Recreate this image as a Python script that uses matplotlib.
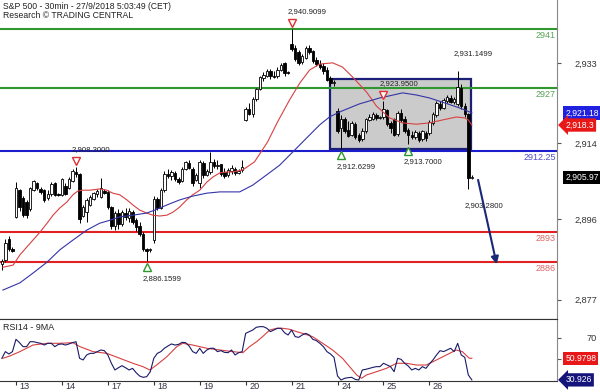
import numpy as np
import matplotlib
matplotlib.use("Agg")
import matplotlib.pyplot as plt
import matplotlib.transforms as mtrans
from matplotlib.patches import Rectangle

plt.rcParams['font.family'] = ['Liberation Sans', 'DejaVu Sans']

# ---------------- data ----------------
title_lines = ["S&P 500 - 30min - 27/9/2018 5:03:49 (CET)", "Research \u00a9 TRADING CENTRAL"]
day_labels = ["13", "14", "17", "18", "19", "20", "21", "24", "25", "26"]
bars_per_day = 13
first_bar = -4  # bars of the previous session shown before "13"

opens = [2885.5, 2886.4, 2891.3, 2889.0,
         2896.6, 2903.0, 2901.0, 2900.0, 2898.5, 2903.0, 2904.5, 2903.3, 2903.0, 2901.0, 2902.0, 2904.5, 2902.0,
         2901.8, 2904.0, 2903.5, 2905.0, 2907.3, 2906.8, 2896.8, 2897.8, 2899.5, 2900.8, 2902.0, 2901.4, 2902.8,
         2902.5, 2899.0, 2894.5, 2897.5, 2895.0, 2897.6, 2896.3, 2897.8, 2895.8, 2894.5, 2892.5, 2889.0, 2888.8,
         2891.2, 2900.8, 2898.8, 2903.0, 2906.8, 2906.3, 2907.0, 2905.6, 2905.0, 2908.0, 2909.3, 2908.0, 2905.2,
         2904.5, 2909.3, 2906.5, 2907.2, 2909.6, 2908.6, 2909.0, 2907.2, 2906.4, 2907.5, 2908.0, 2907.0, 2907.6,
         2919.6, 2922.0, 2921.0, 2924.5, 2926.8, 2929.3, 2930.0, 2931.0, 2930.0, 2929.8, 2931.3, 2933.0, 2930.8,
         2937.5, 2936.5, 2935.5, 2933.2, 2934.2, 2936.5, 2935.7, 2933.7, 2932.8, 2932.2, 2931.3, 2929.3, 2928.2,
         2921.5, 2917.5, 2919.8, 2917.2, 2916.0, 2918.5, 2916.0, 2915.0, 2916.8, 2919.5, 2919.8, 2920.6, 2920.0,
         2920.3, 2921.8, 2918.8, 2919.8, 2916.2, 2921.2, 2919.7, 2917.2, 2916.0, 2915.5, 2916.5, 2915.0, 2916.5,
         2916.4, 2918.8, 2920.6, 2923.3, 2922.3, 2924.0, 2924.8, 2923.8, 2923.2, 2927.0, 2922.8, 2920.8, 2905.8]
highs = [2886.6, 2891.4, 2892.0, 2889.5,
         2904.8, 2903.2, 2901.5, 2900.6, 2903.6, 2905.4, 2904.8, 2903.6, 2903.2, 2903.0, 2904.8, 2904.8, 2902.3,
         2905.8, 2904.5, 2906.0, 2908.0, 2908.3, 2907.0, 2899.4, 2901.0, 2901.8, 2902.5, 2903.3, 2905.8, 2903.2,
         2903.0, 2899.2, 2898.0, 2898.5, 2898.3, 2898.8, 2898.6, 2898.2, 2896.3, 2895.3, 2893.0, 2889.3, 2889.3,
         2901.5, 2901.3, 2903.4, 2907.5, 2907.8, 2907.7, 2907.5, 2906.0, 2908.3, 2909.8, 2910.0, 2908.4, 2907.0,
         2910.0, 2909.8, 2908.0, 2912.0, 2910.2, 2910.0, 2909.2, 2908.2, 2908.2, 2908.8, 2908.4, 2907.8, 2910.0,
         2922.5, 2923.5, 2925.0, 2927.0, 2929.8, 2930.8, 2931.5, 2931.6, 2931.0, 2932.0, 2933.0, 2933.3, 2931.0,
         2940.9099, 2937.2, 2936.0, 2935.0, 2937.0, 2937.3, 2936.0, 2934.3, 2933.6, 2933.0, 2932.0, 2930.0, 2929.0,
         2922.3, 2920.6, 2920.2, 2919.2, 2919.3, 2919.0, 2916.5, 2917.5, 2920.0, 2921.0, 2921.3, 2921.2, 2920.5,
         2923.95, 2922.0, 2919.2, 2920.0, 2921.6, 2922.0, 2920.5, 2917.6, 2917.0, 2917.2, 2917.0, 2917.2, 2917.0,
         2919.5, 2921.3, 2924.0, 2924.0, 2924.6, 2925.5, 2925.3, 2925.0, 2931.1499, 2928.0, 2923.5, 2921.2, 2906.4]
lows = [2884.0, 2886.0, 2888.5, 2888.2,
        2896.4, 2898.0, 2896.5, 2896.4, 2898.0, 2902.8, 2903.0, 2902.0, 2900.0, 2900.5, 2901.6, 2901.6, 2901.5,
        2901.5, 2901.7, 2903.3, 2904.8, 2906.0, 2895.1, 2896.5, 2895.4, 2899.2, 2900.5, 2901.2, 2901.1, 2902.0,
        2898.5, 2893.8, 2893.5, 2893.8, 2894.5, 2895.8, 2895.5, 2895.0, 2893.3, 2892.0, 2888.6, 2886.1599, 2888.4,
        2890.5, 2898.2, 2898.4, 2902.5, 2905.8, 2905.3, 2905.0, 2904.3, 2904.8, 2907.6, 2907.8, 2904.0, 2905.0,
        2903.5, 2905.8, 2906.2, 2906.8, 2908.2, 2908.0, 2906.2, 2905.8, 2906.0, 2906.8, 2906.4, 2906.8, 2907.3,
        2919.3, 2920.6, 2920.3, 2924.0, 2926.5, 2928.8, 2929.6, 2929.2, 2929.3, 2929.5, 2931.0, 2930.0, 2930.4,
        2935.8, 2933.5, 2932.5, 2932.8, 2933.8, 2935.0, 2933.0, 2932.2, 2931.6, 2930.4, 2928.6, 2927.8, 2927.6,
        2916.5, 2912.6299, 2916.5, 2915.5, 2915.8, 2915.0, 2914.2, 2914.5, 2916.5, 2919.2, 2919.5, 2919.6, 2919.8,
        2919.8, 2918.0, 2916.5, 2915.6, 2915.8, 2919.0, 2916.5, 2913.7, 2915.0, 2915.0, 2914.4, 2914.6, 2914.5,
        2916.0, 2918.3, 2920.3, 2921.8, 2922.0, 2923.6, 2923.4, 2923.2, 2922.8, 2922.0, 2920.2, 2903.28, 2905.6]
closes = [2886.2, 2890.4, 2889.0, 2888.6,
          2903.5, 2899.0, 2897.0, 2897.0, 2903.4, 2905.0, 2903.5, 2902.5, 2900.5, 2902.0, 2904.4, 2901.8, 2901.8,
          2905.5, 2902.0, 2905.6, 2907.5, 2906.8, 2896.2, 2899.0, 2900.5, 2901.2, 2902.2, 2902.8, 2903.4, 2902.3,
          2899.0, 2894.5, 2897.5, 2895.0, 2897.8, 2896.5, 2898.0, 2895.5, 2894.2, 2892.5, 2889.0, 2888.6, 2888.9,
          2900.9, 2898.6, 2903.0, 2906.8, 2906.2, 2907.2, 2905.5, 2904.8, 2908.0, 2909.5, 2908.2, 2904.5, 2906.6,
          2909.5, 2906.5, 2907.5, 2909.6, 2908.6, 2908.8, 2906.8, 2906.2, 2907.6, 2908.2, 2907.0, 2907.5, 2908.5,
          2922.2, 2921.0, 2924.5, 2926.8, 2929.6, 2930.2, 2931.0, 2930.0, 2929.6, 2931.3, 2932.6, 2930.5, 2930.6,
          2936.3, 2934.0, 2933.0, 2934.5, 2936.5, 2935.5, 2933.5, 2932.7, 2932.0, 2931.0, 2929.0, 2928.3, 2928.4,
          2917.0, 2919.8, 2917.0, 2915.8, 2918.8, 2915.5, 2914.8, 2917.0, 2919.7, 2920.3, 2920.8, 2920.0, 2920.2,
          2922.0, 2918.6, 2917.5, 2916.0, 2921.2, 2919.5, 2917.0, 2916.0, 2915.4, 2916.6, 2914.8, 2916.8, 2915.2,
          2919.0, 2920.8, 2923.5, 2922.3, 2924.2, 2925.0, 2923.8, 2924.5, 2927.2, 2922.8, 2920.8, 2905.8, 2905.97]

# moving averages on price (bar position, value)
ma_fast_x = [-3.7, -0.8, 1.1, 3.1, 4.8, 6.8, 8.8, 10.5, 12.4, 14.4, 16.1, 17.5, 18.9, 20.9, 23.7, 25.7, 27.4,
             29.4, 31.4, 33.1, 35.0, 37.0, 38.7, 40.7, 42.7, 44.4, 46.3, 48.3, 50.0, 52.0, 54.0, 55.7, 57.7, 59.6,
             61.3, 64.2, 67.5, 71.2, 74.0, 77.4, 80.3, 83.1, 85.9, 89.6, 92.4, 95.2, 99.2, 102.0, 105.7, 109.4,
             113.3, 117.0, 120.7, 124.6, 126.9, 128.0, 129.0]
ma_fast_y = [2884.7, 2885.2, 2887.6, 2889.5, 2891.1, 2893.0, 2895.1, 2897.0, 2898.7, 2900.1, 2901.8, 2902.7,
             2902.9, 2902.9, 2903.2, 2902.9, 2902.2, 2901.8, 2900.6, 2899.4, 2898.2, 2897.5, 2897.0, 2896.8,
             2897.0, 2897.7, 2898.9, 2900.6, 2901.8, 2902.9, 2904.8, 2906.0, 2907.0, 2907.2, 2907.2, 2907.7,
             2909.6, 2914.3, 2919.0, 2924.2, 2928.2, 2931.3, 2932.7, 2933.0, 2932.0, 2929.7, 2926.1, 2922.8,
             2920.0, 2918.8, 2918.5, 2918.8, 2919.5, 2920.2, 2920.0, 2919.5, 2918.3]
ma_slow_x = [-3.7, 1.1, 4.8, 8.8, 12.4, 16.1, 20.1, 23.7, 26.6, 29.4, 33.1, 37.0, 39.3, 42.7, 46.3, 50.0, 54.0,
             57.7, 63.3, 67.0, 70.9, 74.6, 78.3, 82.2, 85.9, 88.7, 91.6, 97.2, 102.9, 105.7, 109.4, 113.3, 117.0,
             120.7, 124.6, 126.9, 129.0]
ma_slow_y = [2879.3, 2881.0, 2883.3, 2885.9, 2888.8, 2891.1, 2893.5, 2895.1, 2895.8, 2896.6, 2897.0, 2897.5,
             2898.2, 2899.4, 2900.6, 2901.5, 2902.2, 2902.5, 2902.5, 2904.1, 2906.5, 2908.8, 2911.9, 2915.2,
             2918.3, 2920.2, 2921.4, 2923.3, 2924.7, 2925.2, 2925.9, 2925.4, 2924.7, 2923.7, 2922.6, 2921.9,
             2921.18]

# RSI14 per bar and its 9-period MA
rsi = [50.9, 57.1, 54.9, 57.1,
       68.5, 65.4, 61.7, 61.7, 66.3, 66.3, 65.4, 64.8, 63.2, 64.8, 64.8, 61.7, 63.8,
       64.2, 63.2, 64.2, 65.4, 66.3, 50.9, 49.4, 54.0, 55.5, 55.5, 57.1, 58.6, 58.0,
       54.0, 46.3, 40.1, 42.2, 44.1, 42.2, 40.1, 41.6, 37.6, 34.5, 33.3, 33.9, 38.5,
       50.9, 55.5, 57.1, 60.2, 62.3, 64.2, 63.2, 63.8, 65.7, 65.4, 62.3, 57.1, 55.5,
       60.2, 55.5, 58.6, 60.2, 60.2, 57.1, 58.0, 56.4, 56.1, 58.6, 54.0, 56.1, 57.1,
       74.0, 75.6, 77.1, 79.6, 80.2, 80.2, 78.7, 75.6, 77.1, 78.7, 78.7, 74.6, 72.5,
       77.1, 71.0, 70.3, 72.5, 74.0, 72.5, 68.5, 67.3, 64.8, 61.7, 57.1, 54.9, 51.8,
       34.5, 30.8, 32.4, 33.0, 33.3, 31.4, 30.8, 40.1, 40.7, 41.6, 42.5, 43.2, 43.2,
       46.3, 44.7, 43.2, 38.5, 50.9, 49.9, 46.3, 43.8, 40.1, 41.6, 40.1, 43.2, 41.6,
       45.7, 49.4, 54.0, 58.0, 57.1, 58.6, 60.2, 57.1, 64.8, 54.0, 51.8, 35.5, 30.926]
rsi_ma_x = [-3.7, -1.7, 1.1, 4.8, 8.8, 12.4, 16.1, 18.1, 21.8, 25.7, 29.4, 33.1, 35.9, 37.9, 39.8, 42.7, 45.5,
            47.2, 50.0, 54.0, 57.7, 61.3, 64.2, 66.1, 68.1, 69.8, 71.8, 73.8, 75.5, 77.4, 79.4, 81.1, 83.9, 86.8,
            89.6, 92.4, 94.4, 96.4, 97.8, 99.2, 102.0, 104.8, 107.7, 110.5, 113.3, 116.1, 119.0, 121.8, 124.6,
            126.3, 128.3, 129.0]
rsi_ma_y = [50.9, 53.1, 57.1, 63.2, 64.8, 64.8, 65.4, 61.7, 57.1, 55.5, 50.9, 46.3, 43.2, 40.1, 44.7, 52.4, 61.7,
            64.8, 63.2, 60.2, 58.6, 57.1, 56.1, 61.7, 66.3, 71.0, 77.1, 78.7, 78.7, 77.8, 75.6, 74.0, 71.0, 64.8,
            58.6, 50.9, 43.2, 35.5, 32.4, 35.5, 38.5, 41.6, 46.3, 46.3, 44.7, 44.7, 49.4, 54.0, 58.6, 57.1, 50.9,
            50.98]

# key levels
resistances = [2941, 2927]
pivot = 2912.25
supports = [2893, 2886]
price_ticks = [2933, 2914, 2896, 2877]
price_tick_labels = ["2,933", "2,914", "2,896", "2,877"]

# ---------------- figure ----------------
W, H = 600, 392
fig = plt.figure(figsize=(W / 100, H / 100), dpi=100)
fig.patch.set_facecolor("white")
right = 557 / W
ax = fig.add_axes([0, 1 - 319 / H, right, 319 / H])
axr = fig.add_axes([0, 1 - 381 / H, right, 62 / H], sharex=ax)

n = len(closes)
xs = np.arange(first_bar, first_bar + n)
o = np.array(opens); h = np.array(highs); l = np.array(lows); c = np.array(closes)

ax.set_xlim(-4.52, 153.1)
ax.set_ylim(2872.46, 2947.85)

# consolidation box
box = Rectangle((89.0, 2912.63), 128.9 - 89.0, 2929.18 - 2912.63, facecolor="#cbcbcb",
                edgecolor="#1c1f7a", linewidth=1.6, zorder=1)
ax.add_patch(box)

for lv in resistances:
    ax.axhline(lv, color="#2e982e", lw=1.5, zorder=2)
    ax.annotate(str(lv), xy=(1, lv), xycoords=("axes fraction", "data"), xytext=(-1, -1.5),
                textcoords="offset points", ha="right", va="top", fontsize=6.5, color="#5aa35a")
ax.axhline(pivot, color="#1c1ccf", lw=1.5, zorder=2)
ax.annotate(f"{pivot:g}", xy=(1, pivot), xycoords=("axes fraction", "data"), xytext=(-1, -1.5),
            textcoords="offset points", ha="right", va="top", fontsize=6.5, color="#5050c8")
for lv in supports:
    ax.axhline(lv, color="#e02222", lw=1.5, zorder=2)
    ax.annotate(str(lv), xy=(1, lv), xycoords=("axes fraction", "data"), xytext=(-1, -1.5),
                textcoords="offset points", ha="right", va="top", fontsize=6.5, color="#e06464")

# candles
ax.vlines(xs, l, h, color="black", lw=0.7, zorder=4)
up = c >= o
body_lo = np.minimum(o, c)
body_h = np.maximum(np.abs(c - o), 0.15)
ax.bar(xs[up], body_h[up], bottom=body_lo[up], width=0.7, facecolor="white", edgecolor="black",
       linewidth=0.6, zorder=5)
ax.bar(xs[~up], body_h[~up], bottom=body_lo[~up], width=0.7, facecolor="black", edgecolor="black",
       linewidth=0.6, zorder=5)

# moving averages
ax.plot(ma_fast_x, ma_fast_y, color="#d84040", lw=0.8, zorder=6)
ax.plot(ma_slow_x, ma_slow_y, color="#3434a8", lw=0.8, zorder=6)

# swing annotations
def mark(i, val, kind, tri=True):
    txt = f"{val:,.4f}"
    sign = 1 if kind == "high" else -1
    if tri:
        ln, = ax.plot([i], [val], marker="v" if kind == "high" else "^", ms=5.5, mfc="white",
                      mec="#e03030" if kind == "high" else "#2e982e", mew=1.0,
                      linestyle="none", zorder=7)
        ln.set_transform(ax.transData + mtrans.ScaledTranslation(0, sign * 4.5 / 72, fig.dpi_scale_trans))
    ax.annotate(txt, xy=(i, val), xytext=(-3, sign * 12.5), textcoords="offset points", ha="left",
                va="center", fontsize=5.6, color="#222222", zorder=8)

mark(17, highs[17 - first_bar], "high")
mark(78, highs[78 - first_bar], "high")
mark(104, highs[104 - first_bar], "high")
mark(125, highs[125 - first_bar], "high", tri=False)
mark(37, lows[37 - first_bar], "low")
mark(92, lows[92 - first_bar], "low")
mark(111, lows[111 - first_bar], "low")
mark(128, lows[128 - first_bar], "low", tri=False)

# forecast arrow
ax.annotate("", xy=(136.2, 2884.75), xytext=(130.6, closes[-1]),
            arrowprops=dict(arrowstyle="-|>", color="#1a2878", lw=1.5, mutation_scale=11), zorder=8)

# title
ax.text(0.005, 0.995, title_lines[0], transform=ax.transAxes, ha="left", va="top", fontsize=6.2,
        color="#222222")
ax.text(0.005, 0.965, title_lines[1], transform=ax.transAxes, ha="left", va="top", fontsize=6.2,
        color="#222222")

# price axis
ax.yaxis.tick_right()
ax.set_yticks(price_ticks)
ax.set_yticklabels(price_tick_labels)
ax.tick_params(axis="y", length=3, width=0.8, color="#555555", pad=26, labelsize=6.6,
               labelcolor="#333333")
for t in ax.get_yticklabels():
    t.set_horizontalalignment("right")
ax.tick_params(axis="x", bottom=False, labelbottom=False)
for s in ["left", "top"]:
    ax.spines[s].set_visible(False)
ax.spines["right"].set_color("#888888")
ax.spines["bottom"].set_color("#333333")

def value_box(a, val, txt, fc, arrow=False):
    style = "larrow,pad=0.25" if arrow else "square,pad=0.25"
    a.annotate(txt, xy=(1, val), xycoords=("axes fraction", "data"), xytext=(6.0, 0),
               textcoords="offset points", ha="left", va="center", fontsize=6.2, color="white",
               bbox=dict(boxstyle=style, fc=fc, ec="none"), annotation_clip=False, zorder=10)

value_box(ax, ma_slow_y[-1], "2,921.18", "#2020e0")
value_box(ax, ma_fast_y[-1], "2,918.3", "#e81818", arrow=True)
value_box(ax, closes[-1], "2,905.97", "#000000")

# RSI panel
axr.plot(rsi_ma_x, rsi_ma_y, color="#d84040", lw=0.8, zorder=3)
axr.plot(xs, rsi, color="#1a1a6a", lw=0.8, zorder=4)
axr.set_ylim(29.9, 87.3)
axr.text(0.005, 0.93, "RSI14 - 9MA", transform=axr.transAxes, ha="left", va="top", fontsize=6.4,
         color="#222222")
axr.yaxis.tick_right()
axr.set_yticks([70, 50])
axr.set_yticklabels(["70", ""])
axr.tick_params(axis="y", length=3, width=0.8, color="#555555", pad=26, labelsize=6.6,
                labelcolor="#333333")
for t in axr.get_yticklabels():
    t.set_horizontalalignment("right")
value_box(axr, rsi_ma_y[-1], "50.9798", "#e81818")
value_box(axr, rsi[-1], "30.926", "#14147a", arrow=True)

day_pos = [k * bars_per_day for k in range(len(day_labels))]
axr.set_xticks(day_pos)
axr.set_xticklabels([])
axr.tick_params(axis="x", length=3, width=0.8, color="#333333", direction="out")
for p, lab in zip(day_pos, day_labels):
    axr.annotate(lab, xy=(p, 0), xycoords=("data", "axes fraction"), xytext=(2.5, -0.5),
                 textcoords="offset points", ha="left", va="top", fontsize=6.6, color="#333344",
                 annotation_clip=False)
axr.spines["left"].set_visible(False)
for s in ["top", "bottom"]:
    axr.spines[s].set_color("#333333")
axr.spines["right"].set_color("#888888")

fig.savefig("out.png", dpi=100)
